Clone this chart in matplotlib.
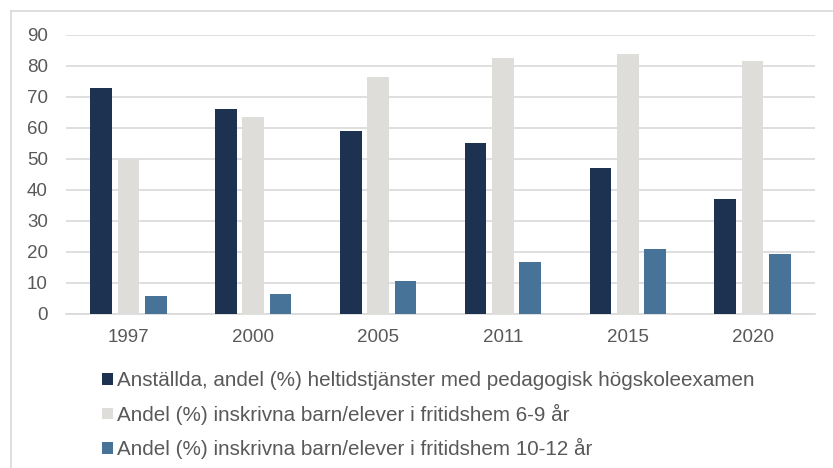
import matplotlib
matplotlib.use("Agg")
import matplotlib.pyplot as plt
import numpy as np
from matplotlib.lines import Line2D
from matplotlib.patches import Patch

plt.rcParams['font.family'] = ['Liberation Sans', 'DejaVu Sans']

# data
years = ['1997', '2000', '2005', '2011', '2015', '2020']
anstallda = [72.8, 65.9, 58.9, 55.0, 46.9, 36.9]
barn_6_9 = [49.9, 63.6, 76.3, 82.6, 83.9, 81.4]
barn_10_12 = [5.9, 6.5, 10.5, 16.8, 21.0, 19.4]

labels = [
    'Anställda, andel (%) heltidstjänster med pedagogisk högskoleexamen',
    'Andel (%) inskrivna barn/elever i fritidshem 6-9 år',
    'Andel (%) inskrivna barn/elever i fritidshem 10-12 år',
]
colors = ['#1d3150', '#deddd9', '#477399']

fig = plt.figure(figsize=(8.33, 4.68), dpi=100)
ax = fig.add_axes([66 / 833, 1 - 314 / 468, (815 - 66) / 833, (314 - 34.7) / 468])

x = np.arange(len(years))
w = 0.174
step = 0.219
for i, (vals, c) in enumerate(zip([anstallda, barn_6_9, barn_10_12], colors)):
    ax.bar(x + (i - 1) * step, vals, width=w, color=c, zorder=3)

ax.set_xlim(-0.5, len(years) - 0.5)
ax.set_ylim(0, 90)
ax.set_yticks(range(0, 91, 10))
ax.set_xticks(x)
ax.set_xticklabels(years)
ax.grid(axis='y', color='#d9d9d9', linewidth=1.2, zorder=0)
for s in ['top', 'right', 'left']:
    ax.spines[s].set_visible(False)
ax.spines['bottom'].set_color('#d9d9d9')
ax.spines['bottom'].set_linewidth(1.2)
ax.tick_params(axis='both', length=0, labelsize=13.5, colors='#595959')
ax.tick_params(axis='y', pad=13)
ax.tick_params(axis='x', pad=11)

# outer chart frame (only top and left edges visible in the crop)
fig.add_artist(Line2D([10.5 / 833, 10.5 / 833], [0, 1 - 11 / 468], color='#d9d9d9',
                      linewidth=1.2, transform=fig.transFigure))
fig.add_artist(Line2D([10.5 / 833, 1], [1 - 11 / 468, 1 - 11 / 468], color='#d9d9d9',
                      linewidth=1.2, transform=fig.transFigure))

handles = [Patch(facecolor=c, edgecolor='none') for c in colors]
leg = fig.legend(handles, labels, loc='upper left', bbox_to_anchor=(101.7 / 833, 1 - 371.5 / 468),
                 frameon=False, fontsize=14.9, handlelength=0.53, handleheight=0.5,
                 handletextpad=0.19, labelspacing=0.64, borderpad=0, borderaxespad=0)
for t in leg.get_texts():
    t.set_color('#595959')

fig.savefig('out.png', dpi=100)
